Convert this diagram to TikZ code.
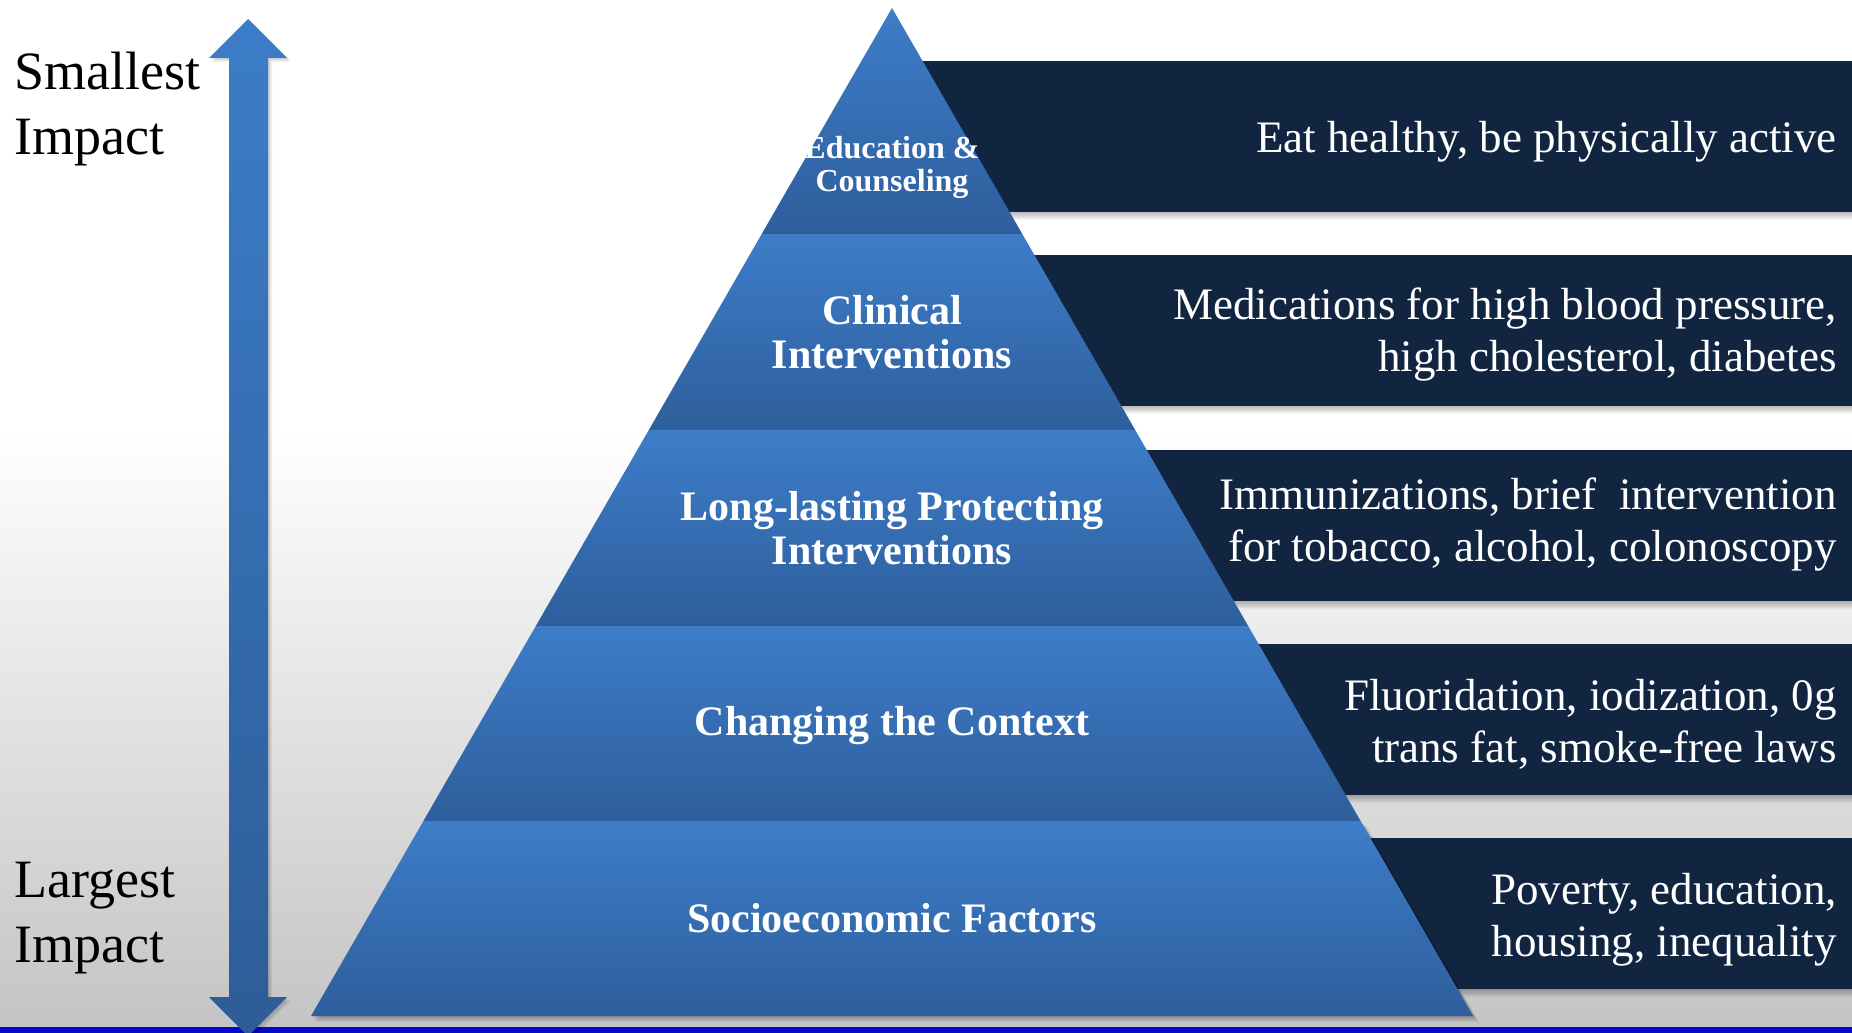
\documentclass[tikz,border=0pt]{standalone}
\usepackage{fontspec}
\setmainfont{Liberation Serif}
\definecolor{boxc}{RGB}{17,37,64}
\definecolor{pyrtop}{RGB}{61,125,201}
\definecolor{pyrbot}{RGB}{46,94,156}
\definecolor{bggray}{RGB}{196,196,196}
\definecolor{botline}{RGB}{8,8,204}
\definecolor{arrtop}{RGB}{60,125,201}
\definecolor{arrbot}{RGB}{45,93,152}
\tikzset{
  boxtext/.style={anchor=east, align=right, text=white, inner sep=0pt, font=\fontsize{45}{52}\selectfont},
  pyrtext/.style={anchor=center, align=center, text=white, inner sep=0pt, font=\bfseries\fontsize{42}{44}\selectfont},
  sidetext/.style={anchor=west, align=left, text=black, inner sep=0pt, font=\fontsize{54}{65}\selectfont},
  band/.style={top color=pyrtop, bottom color=pyrbot}
}
\begin{document}
\begin{tikzpicture}[x=1pt,y=-1pt]
\useasboundingbox (0,0) rectangle (1852,1033);
% background
\fill[white] (0,0) rectangle (1852,430);
\shade[top color=white, bottom color=bggray] (0,430) rectangle (1852,1028);
\fill[botline] (0,1027) rectangle (1852,1033);
% dark boxes with soft shadows
\foreach \t in {61,255,450,644,838}{
  \foreach \d in {1,...,8}{
    \fill[black,opacity=0.035] (894,\t+\d) rectangle (1852,\t+151+\d);
  }
  \fill[boxc] (894,\t) rectangle (1852,\t+151);
}
% pyramid base shadow
\foreach \d in {1,...,6}{
  \fill[black,opacity=0.05] (423.4+\d,821+\d) -- (1360.6+\d,821+\d) -- (1473+\d,1016+\d) -- (311+\d,1016+\d) -- cycle;
}
% pyramid bands
\shade[band] (892,8) -- (1022.3,234) -- (761.7,234) -- cycle;
\shade[band] (761.7,234) -- (1022.3,234) -- (1135.2,430) -- (648.8,430) -- cycle;
\shade[band] (648.8,430) -- (1135.2,430) -- (1248.2,626) -- (535.8,626) -- cycle;
\shade[band] (535.8,626) -- (1248.2,626) -- (1360.6,821) -- (423.4,821) -- cycle;
\shade[band] (423.4,821) -- (1360.6,821) -- (1473,1016) -- (311,1016) -- cycle;
% double arrow
\foreach \d in {1,...,4}{
  \fill[black,opacity=0.05] (248+\d,19+\d) -- (287+\d,58+\d) -- (268+\d,58+\d) -- (268+\d,997+\d) -- (287+\d,997+\d) -- (248+\d,1036+\d) -- (209+\d,997+\d) -- (229+\d,997+\d) -- (229+\d,58+\d) -- (209+\d,58+\d) -- cycle;
}
\shade[top color=arrtop, bottom color=arrbot] (248,19) -- (287,58) -- (268,58) -- (268,997) -- (287,997) -- (248,1036) -- (209,997) -- (229,997) -- (229,58) -- (209,58) -- cycle;
% pyramid labels
\node[pyrtext, font=\bfseries\fontsize{32}{33}\selectfont] (edu) at (892,167) {Education \&\\Counseling};
\node[pyrtext] (clin) at (892,332) {Clinical\\Interventions};
\node[pyrtext] (long) at (892,528) {Long-lasting Protecting\\Interventions};
\node[pyrtext] (ctx) at (892,726) {Changing the Context};
\node[pyrtext] (soc) at (892,918) {Socioeconomic Factors};
% box texts
\node[boxtext] (b1) at (1837,142) {Eat healthy, be physically active};
\node[boxtext] (b2) at (1837,335) {Medications for high blood pressure,\\high cholesterol, diabetes};
\node[boxtext] (b3) at (1837,525) {Immunizations, brief\ \ intervention\\for tobacco, alcohol, colonoscopy};
\node[boxtext] (b4) at (1837,724) {Fluoridation, iodization, 0g\\trans fat, smoke-free laws};
\node[boxtext] (b5) at (1837,920) {Poverty, education,\\housing, inequality};
% side labels
\node[sidetext] (small) at (14,109) {Smallest\\Impact};
\node[sidetext] (large) at (14,918) {Largest\\Impact};
\end{tikzpicture}
\end{document}
